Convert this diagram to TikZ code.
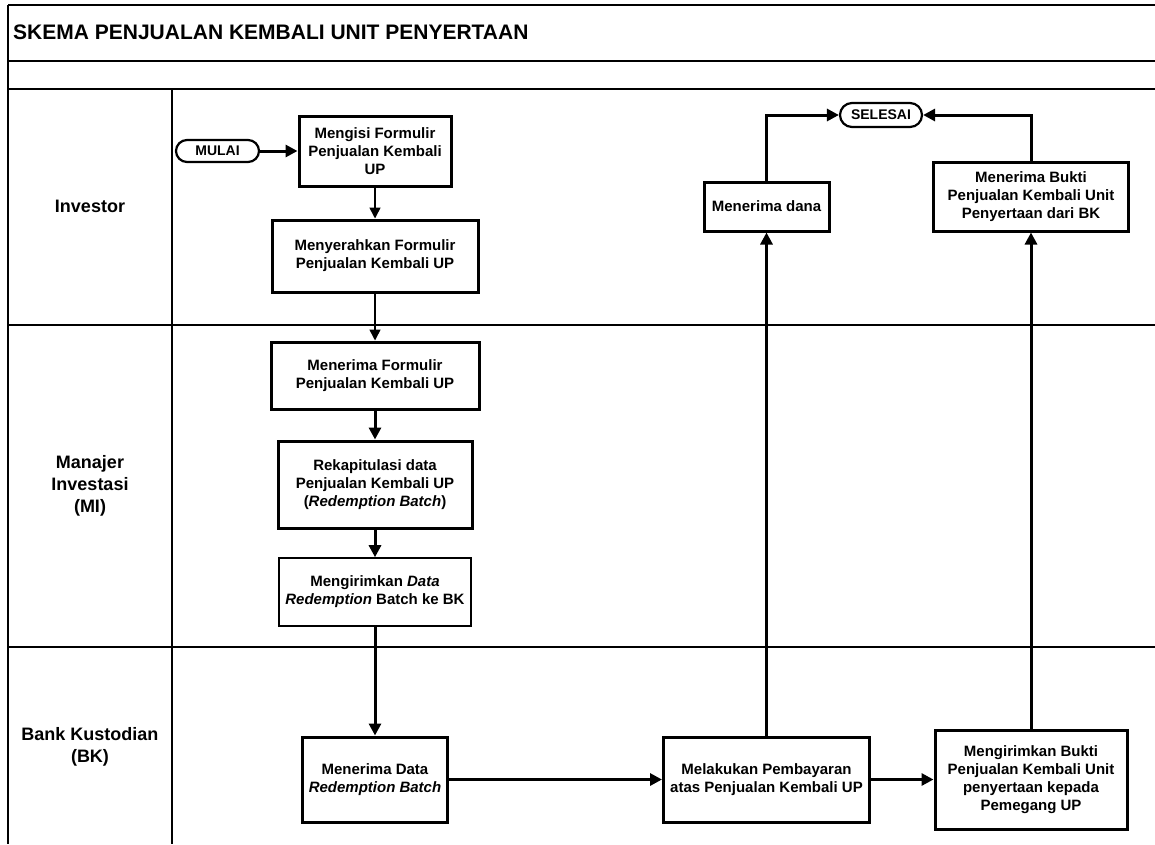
\documentclass[tikz,border=0pt]{standalone}
\usepackage{fontspec}
\setmainfont{Liberation Sans}
\usetikzlibrary{arrows.meta}

\begin{document}
\begin{tikzpicture}[%
  x=1pt,y=-1pt,%
  laneStyle/.style={-,line width=2pt},%
  boxStyle/.style={draw,line width=3pt,align=center,inner sep=2pt,%
    font=\bfseries\fontsize{15}{18}\selectfont},%
  thinBoxStyle/.style={boxStyle,line width=1.6pt},%
  termStyle/.style={draw,line width=2.2pt,inner sep=1pt,%
    font=\bfseries\fontsize{14}{16}\selectfont},%
  laneLabel/.style={align=center,font=\bfseries\fontsize{18}{22}\selectfont},%
  arrowStyle/.style={-{Triangle[length=12pt,width=12pt]},line width=3pt},%
  thinArrowStyle/.style={-{Triangle[length=11pt,width=11pt]},line width=1.6pt}%
]
%
%
\pgfmathsetmacro{\xleft}{8}     % Left border of the table.
\pgfmathsetmacro{\xright}{1155} % Right end of the rows.
\pgfmathsetmacro{\xlane}{172}   % Divider between labels and lanes.
\pgfmathsetmacro{\ybottom}{844}
\useasboundingbox (0,0) rectangle (1155,844);
%
%
% The table of lanes.
\draw[laneStyle] (\xleft,5) -- (\xright,5);
\draw[laneStyle] (\xleft,61) -- (\xright,61);
\draw[laneStyle] (\xleft,89) -- (\xright,89);
\draw[laneStyle] (\xleft,325) -- (\xright,325);
\draw[laneStyle] (\xleft,647) -- (\xright,647);
\draw[laneStyle] (\xleft,5) -- (\xleft,\ybottom);
\draw[laneStyle] (\xlane,89) -- (\xlane,\ybottom);
\node[anchor=west,inner sep=0pt,font=\bfseries\fontsize{21}{24}\selectfont] (title) at (13,32)
  {SKEMA PENJUALAN KEMBALI UNIT PENYERTAAN};
\node[laneLabel] (investor) at (90,206) {Investor};
\node[laneLabel] (mi) at (90,486) {Manajer\\ Investasi\\ (MI)};
\node[laneLabel] (bk) at (90,747) {Bank Kustodian\\ (BK)};
%
%
% Investor lane.
\node[termStyle,minimum width=83pt,minimum height=22pt,rounded corners=11pt] (mulai) at (217.5,151) {MULAI};
\node[boxStyle,minimum width=152pt,minimum height=70pt] (mengisi) at (375,151)
  {Mengisi Formulir\\ Penjualan Kembali\\ UP};
\node[boxStyle,minimum width=206pt,minimum height=72pt] (menyerahkan) at (375,256)
  {Menyerahkan Formulir\\ Penjualan Kembali UP};
\node[termStyle,minimum width=82pt,minimum height=24pt,rounded corners=12pt] (selesai) at (881,115) {SELESAI};
\node[boxStyle,minimum width=125pt,minimum height=49pt] (dana) at (766.5,206.5) {Menerima dana};
\node[boxStyle,minimum width=195pt,minimum height=69pt] (bukti) at (1031,196.5)
  {Menerima Bukti\\ Penjualan Kembali Unit\\ Penyertaan dari BK};
%
% Manajer Investasi lane.
\node[boxStyle,minimum width=208pt,minimum height=67pt] (terimaForm) at (375,375.5)
  {Menerima Formulir\\ Penjualan Kembali UP};
\node[boxStyle,minimum width=194pt,minimum height=87pt] (rekap) at (375,484.5)
  {Rekapitulasi data\\ Penjualan Kembali UP\\ (\textit{Redemption Batch})};
\node[thinBoxStyle,minimum width=192pt,minimum height=68pt] (kirimData) at (375,592)
  {Mengirimkan \textit{Data}\\ \textit{Redemption} Batch ke BK};
%
% Bank Kustodian lane.
\node[boxStyle,minimum width=145pt,minimum height=85pt] (terimaData) at (375,779.5)
  {Menerima Data\\ \textit{Redemption Batch}};
\node[boxStyle,minimum width=206pt,minimum height=85pt] (bayar) at (766.5,779.5)
  {Melakukan Pembayaran\\ atas Penjualan Kembali UP};
\node[boxStyle,minimum width=192pt,minimum height=99pt] (kirimBukti) at (1031,779.5)
  {Mengirimkan Bukti\\ Penjualan Kembali Unit\\ penyertaan kepada\\ Pemegang UP};
%
%
% The flow.
\draw[arrowStyle] (mulai) -- (mengisi);
\draw[thinArrowStyle] (mengisi) -- (menyerahkan);
\draw[thinArrowStyle] (menyerahkan) -- (terimaForm);
\draw[arrowStyle] (terimaForm) -- (rekap);
\draw[arrowStyle] (rekap) -- (kirimData);
\draw[arrowStyle] (kirimData) -- (terimaData);
\draw[arrowStyle] (terimaData) -- (bayar);
\draw[arrowStyle] (bayar) -- (kirimBukti);
\draw[arrowStyle] (bayar) -- (dana);
\draw[arrowStyle] (kirimBukti) -- (bukti);
\draw[arrowStyle] (dana.north) |- (selesai.west);
\draw[arrowStyle] (bukti.north) |- (selesai.east);
\end{tikzpicture}
\end{document}
